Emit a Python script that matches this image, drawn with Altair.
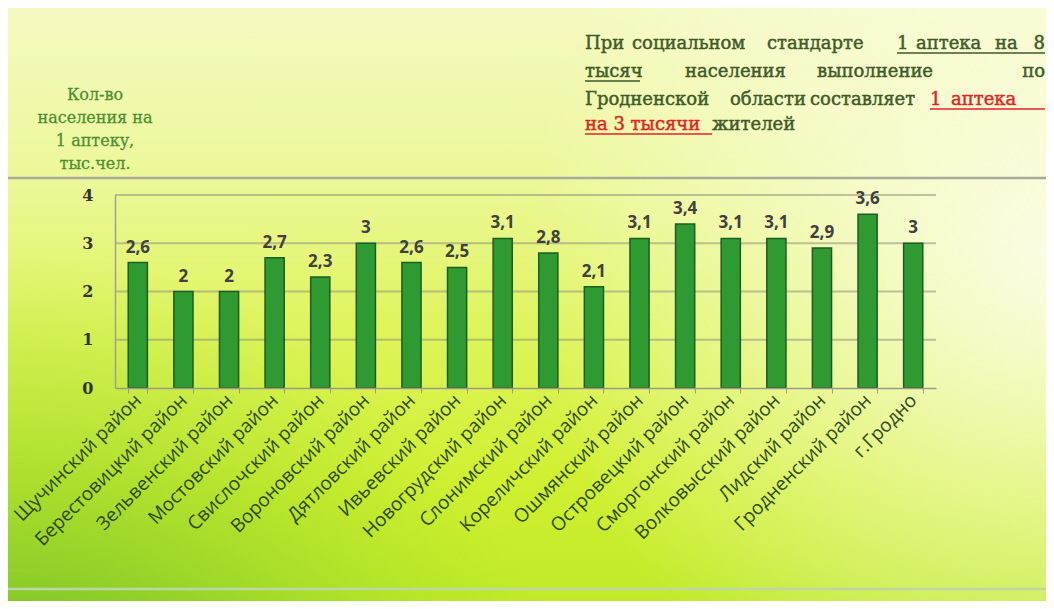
import altair as alt
import pandas as pd

districts = [
    "Щучинский район", "Берестовицкий район", "Зельвенский район", "Мостовский район",
    "Свислочский район", "Вороновский район", "Дятловский район", "Ивьевский район",
    "Новогрудский район", "Слонимский район", "Кореличский район", "Ошмянский район",
    "Островецкий район", "Сморгонский район", "Волковысский район", "Лидский район",
    "Гродненский район", "г.Гродно",
]
values = [2.6, 2.0, 2.0, 2.7, 2.3, 3.0, 2.6, 2.5, 3.1, 2.8, 2.1, 3.1, 3.4, 3.1, 3.1, 2.9, 3.6, 3.0]
y_ticks = [0, 1, 2, 3, 4]

df = pd.DataFrame({"district": districts, "value": values})
grid_df = pd.DataFrame({"value": y_ticks[1:]})

W, H = 821, 193
PAD = {"left": 107, "top": 187, "right": 110, "bottom": 213}
one = alt.Data(values=[{"a": 1}])

TEXT_GREEN = "#3d5a28"
RED = "#e02424"


def bg(fill):
    return alt.Chart(one).mark_rect(fill=fill, strokeWidth=0).encode(
        x=alt.value(-PAD["left"]), x2=alt.value(W + PAD["right"]),
        y=alt.value(-PAD["top"]), y2=alt.value(H + PAD["bottom"]),
    )


base_grad = {
    "gradient": "linear", "x1": 0, "y1": 0, "x2": 0, "y2": 1,
    "stops": [
        {"offset": 0.0, "color": "#f5f9c2"},
        {"offset": 0.3, "color": "#ecf796"},
        {"offset": 0.55, "color": "#def45a"},
        {"offset": 0.8, "color": "#d0f030"},
        {"offset": 1.0, "color": "#c0ea28"},
    ],
}
green_glow = {
    "gradient": "radial", "x1": 0, "y1": 1, "r1": 0, "x2": 0, "y2": 1, "r2": 0.55,
    "stops": [
        {"offset": 0.0, "color": "rgba(50,150,40,0.95)"},
        {"offset": 0.5, "color": "rgba(110,190,40,0.5)"},
        {"offset": 1.0, "color": "rgba(150,220,40,0)"},
    ],
}
pale_glow = {
    "gradient": "radial", "x1": 1, "y1": 0.45, "r1": 0, "x2": 1, "y2": 0.45, "r2": 0.5,
    "stops": [
        {"offset": 0.0, "color": "rgba(252,253,232,0.95)"},
        {"offset": 1.0, "color": "rgba(252,253,232,0)"},
    ],
}

layers = [bg(base_grad), bg(green_glow), bg(pale_glow)]

# separator lines
for yy, col in [(-17, "#a9ab9a"), (394, "#bcd6a8")]:
    layers.append(
        alt.Chart(one).mark_rule(color=col, strokeWidth=2.5).encode(
            x=alt.value(-PAD["left"]), x2=alt.value(W + PAD["right"]), y=alt.value(yy)
        )
    )

x_enc = alt.X(
    "district:N", sort=None, title=None,
    scale=alt.Scale(paddingInner=0.58, paddingOuter=0.29),
    axis=alt.Axis(
        labelAngle=-45, labelAlign="right", labelBaseline="middle",
        labelFont="Open Sans", labelFontSize=19, labelColor="#2f4a1e",
        labelPadding=4, tickBand="extent", tickSize=5, tickColor="#9a9a8a",
        domainColor="#9a9a8a", domainWidth=1.5, labelLimit=300, zindex=1,
    ),
)
y_scale = alt.Scale(domain=[0, 4], nice=False)
y_axis = alt.Axis(
    values=y_ticks, ticks=False, grid=False, labelFont="DejaVu Serif", labelFontWeight="bold",
    labelFontSize=16, labelColor="#333333", labelPadding=22,
    domainColor="#a0a090", domainWidth=1.5, zindex=1,
)

gridlines = alt.Chart(grid_df).mark_rule(color="#8f8f7c", opacity=0.55, strokeWidth=2).encode(
    y=alt.Y("value:Q", scale=y_scale, axis=y_axis, title=None)
)

bars = alt.Chart(df).mark_bar(fill="#2f9a32", stroke="#1c5e20", strokeWidth=1.5).encode(
    x=x_enc, y=alt.Y("value:Q", scale=y_scale, axis=y_axis, title=None)
)
labels = alt.Chart(df).transform_calculate(
    label="replace(toString(datum.value), '.', ',')"
).mark_text(
    baseline="bottom", dy=-6, font="Open Sans", fontWeight="bold", fontSize=17, color="#404040"
).encode(x=alt.X("district:N", sort=None), y=alt.Y("value:Q"), text="label:N")

layers += [gridlines, bars, labels]


def note(text, x, y, color=TEXT_GREEN, align="left", size=18, font="DejaVu Serif",
         baseline="alphabetic", sw=0.45):
    return alt.Chart(one).mark_text(
        text=text, align=align, baseline=baseline, font=font, fontSize=size, color=color,
        stroke=color, strokeWidth=sw,
    ).encode(x=alt.value(x), y=alt.value(y))


def underline(x1, x2, y, color):
    return alt.Chart(one).mark_rule(color=color, strokeWidth=1.5).encode(
        x=alt.value(x1), x2=alt.value(x2), y=alt.value(y)
    )


# y-axis title (multi-line)
for t, yy in [("Кол-во", -100), ("населения на", -77), ("1 аптеку,", -54), ("тыс.чел.", -31)]:
    layers.append(note(t, -20, yy, color="#4a9030", align="center", size=16, baseline="middle",
                       sw=0.3))

# paragraph (justified, placed word by word)
layers += [
    note("При", 470, -146), note("социальном", 517, -146), note("стандарте", 652, -146),
    note("1", 782, -146), note("аптека", 801, -146), note("на", 880, -146),
    note("8", 930, -146, align="right"),
    note("тысяч", 470, -118), note("населения", 570, -118), note("выполнение", 702, -118),
    note("по", 930, -118, align="right"),
    note("Гродненской", 470, -90), note("области", 615, -90), note("составляет", 695, -90),
    note("1", 815, -90, color=RED), note("аптека", 836, -90, color=RED),
    note("на 3 тысячи", 470, -65, color=RED), note("жителей", 597, -65),
    underline(782, 930, -142, TEXT_GREEN),
    underline(470, 525, -114, TEXT_GREEN),
    underline(815, 930, -86, RED),
    underline(470, 597, -61, RED),
]

chart = alt.layer(*layers).properties(
    width=W, height=H, padding=PAD, autosize=alt.AutoSizeParams(type="none"),
    background="#ffffff",
).configure_view(stroke=None)

chart.save("out.html", embed_options={"renderer": "svg", "actions": False})
